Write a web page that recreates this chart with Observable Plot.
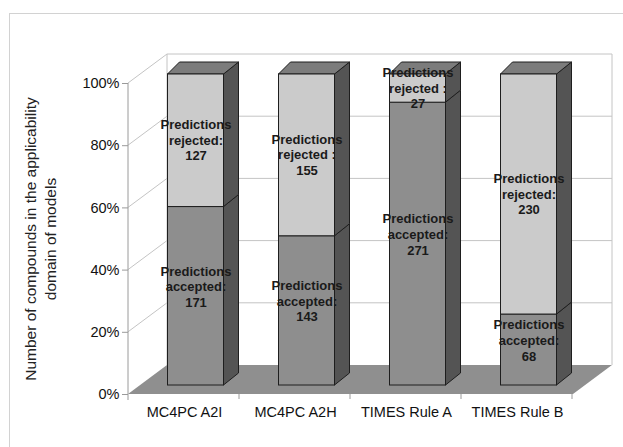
<!DOCTYPE html>
<html><head><meta charset="utf-8">
<script src="https://cdn.jsdelivr.net/npm/d3@7"></script>
<script src="https://cdn.jsdelivr.net/npm/@observablehq/plot@0.6"></script>
<style>
body{margin:0;background:#fff}
#chart svg{display:block}
</style>
</head><body><div id="chart"></div>
<script>
const categories = ["MC4PC A2I", "MC4PC A2H", "TIMES Rule A", "TIMES Rule B"];
const accepted = [171, 143, 271, 68];
const rejected = [127, 155, 27, 230];
const acceptedWord = ["accepted:", "accepted:", "accepted:", "accepted:"];
const rejectedWord = ["rejected:", "rejected :", "rejected :", "rejected:"];
const yTicks = [0, 20, 40, 60, 80, 100];
const yTitle = ["Number of compounds in the applicability", "domain of models"];

// derived table: percentage stacks
const segments = [];
categories.forEach((c, i) => {
  const tot = accepted[i] + rejected[i];
  const pa = accepted[i] / tot * 100;
  segments.push({cat: c, kind: "accepted", y1: 0, y2: pa, label: `Predictions\n${acceptedWord[i]}\n${accepted[i]}`});
  segments.push({cat: c, kind: "rejected", y1: pa, y2: 100, label: `Predictions\n${rejectedWord[i]}\n${rejected[i]}`});
});

// 3-D styling constants
const WALL = [39, -29];      // depth of the chart box
const OFF = [11.5, -9];      // bar front offset from axis plane
const SIDE = [15, -12];      // bar depth on the right
const TOPL = 12;             // top face back-left shift
const COL = {acc: "#8e8e8e", rej: "#cbcbcb", side: "#545454", top: "#7c7c7c", floor: "#8f8f8f", grid: "#c4c4c4", axis: "#9a9a9a", edge: "#1e1e1e"};

function backdrop(index, scales, values, dim) {
  const x = scales.x, y = scales.y;
  const step = x.step();
  const x0 = dim.marginLeft, x1 = dim.width - dim.marginRight;
  const [wx, wy] = WALL;
  const g = d3.create("svg:g");
  g.append("rect").attr("x", 9.5).attr("y", 13.5).attr("width", dim.width).attr("height", dim.height)
    .attr("fill", "none").attr("stroke", "#d2d2d2");
  // grid lines: left wall diagonal + back wall horizontal
  for (const t of yTicks) {
    if (t === 0) continue;
    const yy = y(t);
    g.append("path").attr("d", `M${x0},${yy}L${x0 + wx},${yy + wy}H${x1 + wx}`)
      .attr("fill", "none").attr("stroke", COL.grid);
  }
  // back wall edges
  g.append("path").attr("d", `M${x0 + wx},${y(0) + wy}V${y(100) + wy}M${x1 + wx},${y(100) + wy}V${y(0) + wy}`)
    .attr("fill", "none").attr("stroke", COL.grid);
  // floor
  g.append("path").attr("d", `M${x0},${y(0)}H${x1}L${x1 + wx},${y(0) + wy}H${x0 + wx}Z`)
    .attr("fill", COL.floor).attr("stroke", "none");
  // axis lines
  g.append("path").attr("d", `M${x0},${y(100)}V${y(0) + 6}`).attr("stroke", COL.axis).attr("fill", "none");
  for (let k = 1; k <= categories.length; k++) {
    const xx = x0 + k * step;
    g.append("path").attr("d", `M${xx},${y(0)}V${y(0) + 5}`).attr("stroke", COL.axis);
  }
  return g.node();
}

function barSides(index, scales) {
  const x = scales.x, y = scales.y;
  const bw = x.bandwidth();
  const g = d3.create("svg:g").attr("stroke", COL.edge).attr("stroke-width", 1).attr("stroke-linejoin", "round");
  for (const s of segments) {
    const xa = x(s.cat) + OFF[0], xb = xa + bw;
    const yt = y(s.y2) + OFF[1], yb = y(s.y1) + OFF[1];
    g.append("path").attr("d", `M${xb},${yb}L${xb + SIDE[0]},${yb + SIDE[1]}V${yt + SIDE[1]}L${xb},${yt}Z`)
      .attr("fill", COL.side);
    if (s.y2 === 100) {
      g.append("path").attr("d", `M${xa},${yt}L${xa + TOPL},${yt + SIDE[1]}H${xb + SIDE[0]}L${xb},${yt}Z`)
        .attr("fill", COL.top);
    }
  }
  return g.node();
}

const acc = segments.filter(d => d.kind === "accepted");
const rej = segments.filter(d => d.kind === "rejected");

const chart = Plot.plot({
  width: 623, height: 447,
  marginLeft: 128, marginRight: 50, marginTop: 83, marginBottom: 53,
  x: {type: "band", domain: categories, paddingInner: 0.497, paddingOuter: 0.2485, label: null},
  y: {domain: [0, 100], label: null},
  style: {fontFamily: "'Liberation Sans', Arial, sans-serif", fontSize: "14.5px", color: "#111", background: "#fff", overflow: "hidden"},
  marks: [
    backdrop,
    barSides,
    Plot.barY(acc, {x: "cat", y1: "y1", y2: "y2", fill: COL.acc, stroke: COL.edge, dx: OFF[0], dy: OFF[1]}),
    Plot.barY(rej, {x: "cat", y1: "y1", y2: "y2", fill: COL.rej, stroke: COL.edge, dx: OFF[0], dy: OFF[1]}),
    Plot.text(acc, {x: "cat", y: d => (d.y1 + d.y2) / 2, text: "label", dx: OFF[0], dy: OFF[1] - 10,
      fontSize: 13, fontWeight: "bold", lineHeight: 1.2, fill: "#1a1a1a"}),
    Plot.text(rej, {x: "cat", y: d => (d.y1 + d.y2) / 2, text: "label", dx: OFF[0], dy: OFF[1] - 1,
      fontSize: 13, fontWeight: "bold", lineHeight: 1.2, fill: "#1a1a1a"}),
    Plot.axisY({ticks: yTicks, tickFormat: d => d + "%", tickSize: 6, tickPadding: 3, stroke: COL.axis, fill: "#111", label: null}),
    Plot.axisX({tickSize: 0, tickPadding: 12, fill: "#111", label: null}),
    Plot.text([yTitle.join("\n")], {frameAnchor: "left", dx: -89, rotate: -90, textAnchor: "middle",
      fontSize: 15.5, lineHeight: 1.3, fill: "#222"})
  ]
});
document.getElementById("chart").appendChild(chart);
</script>
</body></html>
